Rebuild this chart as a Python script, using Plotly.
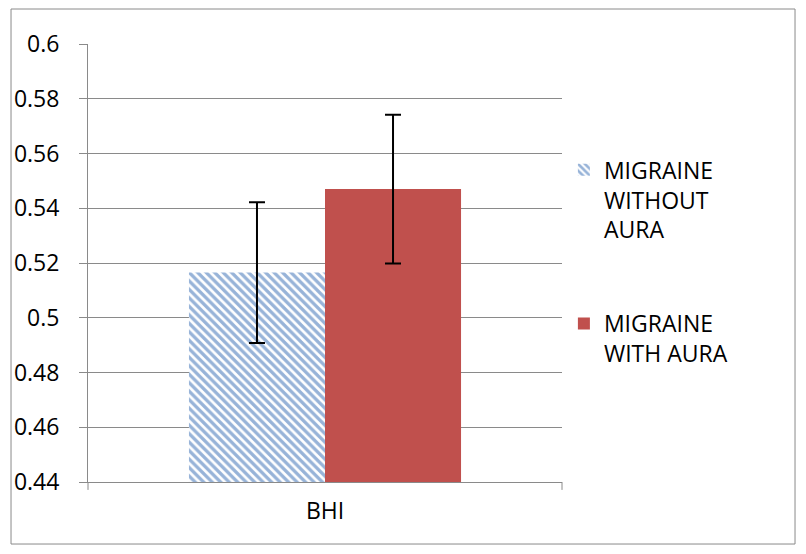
import plotly.graph_objects as go

categories = ["BHI"]
series_names = ["MIGRAINE<br>WITHOUT<br>AURA", "MIGRAINE<br>WITH AURA"]
without_aura = [0.5165]
without_aura_err = [0.0257]
with_aura = [0.547]
with_aura_err = [0.0272]
y_ticks = [0.44, 0.46, 0.48, 0.5, 0.52, 0.54, 0.56, 0.58, 0.6]
y_tick_labels = ["0.44", "0.46", "0.48", "0.5", "0.52", "0.54", "0.56", "0.58", "0.6"]

FONT = "Open Sans, Liberation Sans, Arial, sans-serif"
GRID = "#8a8a8a"
FS = 23

fig = go.Figure()
fig.add_trace(go.Bar(
    x=categories, y=without_aura, name=series_names[0], legendgroup="g1",
    marker=dict(color="white", line=dict(width=0),
                pattern=dict(shape="\\", fgcolor="#2F67B2", bgcolor="white", size=6, solidity=0.55)),
    error_y=dict(type="data", array=without_aura_err, color="black", thickness=2, width=8),
))
fig.add_trace(go.Bar(
    x=categories, y=with_aura, name=series_names[1], legendgroup="g2",
    marker=dict(color="#C0504D", line=dict(width=0)),
    error_y=dict(type="data", array=with_aura_err, color="black", thickness=2, width=8),
))

fig.update_layout(
    width=806, height=554,
    margin=dict(l=88, r=244, t=44, b=72),
    paper_bgcolor="white", plot_bgcolor="white",
    barmode="group", bargap=0.426, bargroupgap=0,
    font=dict(family=FONT, size=FS, color="black"),
    showlegend=True,
    legend=dict(x=1.004, y=0.762, xanchor="left", yanchor="top", valign="top",
                font=dict(family=FONT, size=FS, color="black"),
                tracegroupgap=61, itemwidth=30, bgcolor="rgba(0,0,0,0)"),
    xaxis=dict(showline=True, linecolor=GRID, linewidth=1, ticks="", showgrid=False,
               tickfont=dict(size=FS), zeroline=False, ticklabelstandoff=8),
    yaxis=dict(range=[0.44, 0.6], tickvals=y_ticks, ticktext=y_tick_labels,
               showgrid=True, gridcolor=GRID, gridwidth=1,
               showline=True, linecolor=GRID, linewidth=1,
               ticks="outside", ticklen=8, tickcolor=GRID,
               tickfont=dict(size=FS), zeroline=False, ticklabelstandoff=15),
    shapes=[
        dict(type="rect", xref="paper", yref="paper",
             x0=-0.1624, x1=1.4916, y0=-0.1416, y1=1.0799,
             line=dict(color=GRID, width=1), fillcolor="rgba(0,0,0,0)", layer="below"),
        dict(type="line", xref="paper", yref="paper", x0=0, x1=0, y0=0, y1=-0.018,
             line=dict(color=GRID, width=1)),
        dict(type="line", xref="paper", yref="paper", x0=1, x1=1, y0=0, y1=-0.018,
             line=dict(color=GRID, width=1)),
    ],
)

fig.write_html("out.html", config={"displayModeBar": False},
               post_script="document.body.style.margin='0';")
